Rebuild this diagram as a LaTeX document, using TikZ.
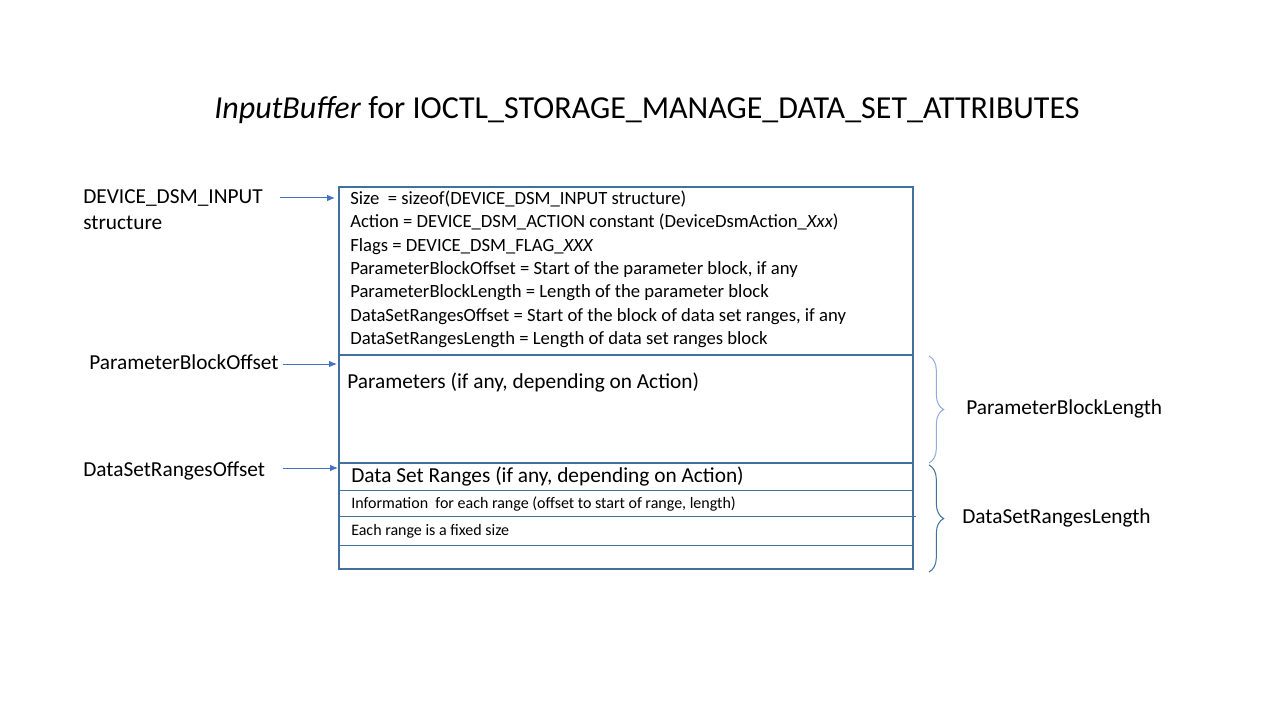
\documentclass[tikz,border=0pt]{standalone}
\usepackage{fontspec}
\setmainfont{Carlito}
\usepackage{tikz}
\usetikzlibrary{arrows.meta,decorations.pathreplacing}
\definecolor{boxblue}{RGB}{65,113,156}
\definecolor{arrowblue}{RGB}{68,114,196}
\definecolor{braceblue}{RGB}{143,170,220}

\begin{document}
\begin{tikzpicture}[x=0.75pt,y=-0.75pt,
  lbl/.style={font=\fontsize{16}{19}\selectfont, inner sep=0pt, anchor=west},
  fld/.style={font=\fontsize{14}{17}\selectfont, inner sep=0pt, anchor=west,
    text height=10pt, text depth=3pt},
  small/.style={font=\fontsize{12}{14}\selectfont, inner sep=0pt, anchor=west},
  ptr/.style={arrowblue, line width=0.75pt, -{Latex[length=6pt,width=5pt]}},
  brc/.style={decorate, decoration={brace,amplitude=11pt}, line width=0.75pt}]
  \useasboundingbox (0,0) rectangle (1280,720);

  % Title
  \node (title) at (647,110) {\fontsize{24}{29}\selectfont\textit{InputBuffer} for IOCTL\_STORAGE\_MANAGE\_DATA\_SET\_ATTRIBUTES};

  % Buffer layout
  \draw[boxblue, line width=1.5pt] (339,187) rectangle (913,569);
  \draw[boxblue, line width=1.5pt] (339,355) -- (913,355);
  \draw[boxblue, line width=1.5pt] (339,463) -- (913,463);
  \draw[boxblue, line width=0.75pt] (339,490) -- (913,490);
  \draw[boxblue, line width=0.75pt] (339,516) -- (916,516);
  \draw[boxblue, line width=0.75pt] (339,545) -- (913,545);

  % Header fields
  \foreach \t [count=\i] in {
      {Size\ \ = sizeof(DEVICE\_DSM\_INPUT structure)},
      {Action = DEVICE\_DSM\_ACTION constant (DeviceDsmAction\_\textit{Xxx})},
      {Flags = DEVICE\_DSM\_FLAG\_\textit{XXX}},
      {ParameterBlockOffset = Start of the parameter block, if any},
      {ParameterBlockLength = Length of the parameter block},
      {DataSetRangesOffset = Start of the block of data set ranges, if any},
      {DataSetRangesLength = Length of data set ranges block}}
    \node[fld] (hdr\i) at (350,{176.5+23.33*\i}) {\t};

  % Parameter block and ranges
  \node[lbl] (params) at (347,383) {Parameters (if any, depending on Action)};
  \node[lbl] (ranges) at (351,477) {Data Set Ranges (if any, depending on Action)};
  \node[small] (info) at (351,504) {Information\ \ for each range (offset to start of range, length)};
  \node[small] (fixed) at (351,531) {Each range is a fixed size};

  % Offsets on the left
  \node[lbl] (dsm) at (83,198) {DEVICE\_DSM\_INPUT};
  \node[lbl] (dsmb) at (83,223) {structure};
  \node[lbl] (pbo) at (89,362) {ParameterBlockOffset};
  \node[lbl] (dro) at (83,471) {DataSetRangesOffset};

  \coordinate (dsmfrom) at (280,198);
  \coordinate (dsmto) at (335,198);
  \coordinate (pbofrom) at (283,364);
  \coordinate (pboto) at (337,364);
  \coordinate (drofrom) at (283,468);
  \coordinate (droto) at (338,468);
  \draw[ptr] (dsmfrom) -- (dsmto);
  \draw[ptr] (pbofrom) -- (pboto);
  \draw[ptr] (drofrom) -- (droto);

  % Lengths on the right
  \coordinate (pbtop) at (929,356);
  \coordinate (pbbot) at (929,463);
  \coordinate (drtop) at (929,465);
  \coordinate (drbot) at (929,572);
  \draw[brc, braceblue] (pbtop) -- (pbbot);
  \draw[brc, boxblue] (drtop) -- (drbot);
  \node[lbl] (pbl) at (966,409) {ParameterBlockLength};
  \node[lbl] (drl) at (962,518) {DataSetRangesLength};
\end{tikzpicture}
\end{document}
